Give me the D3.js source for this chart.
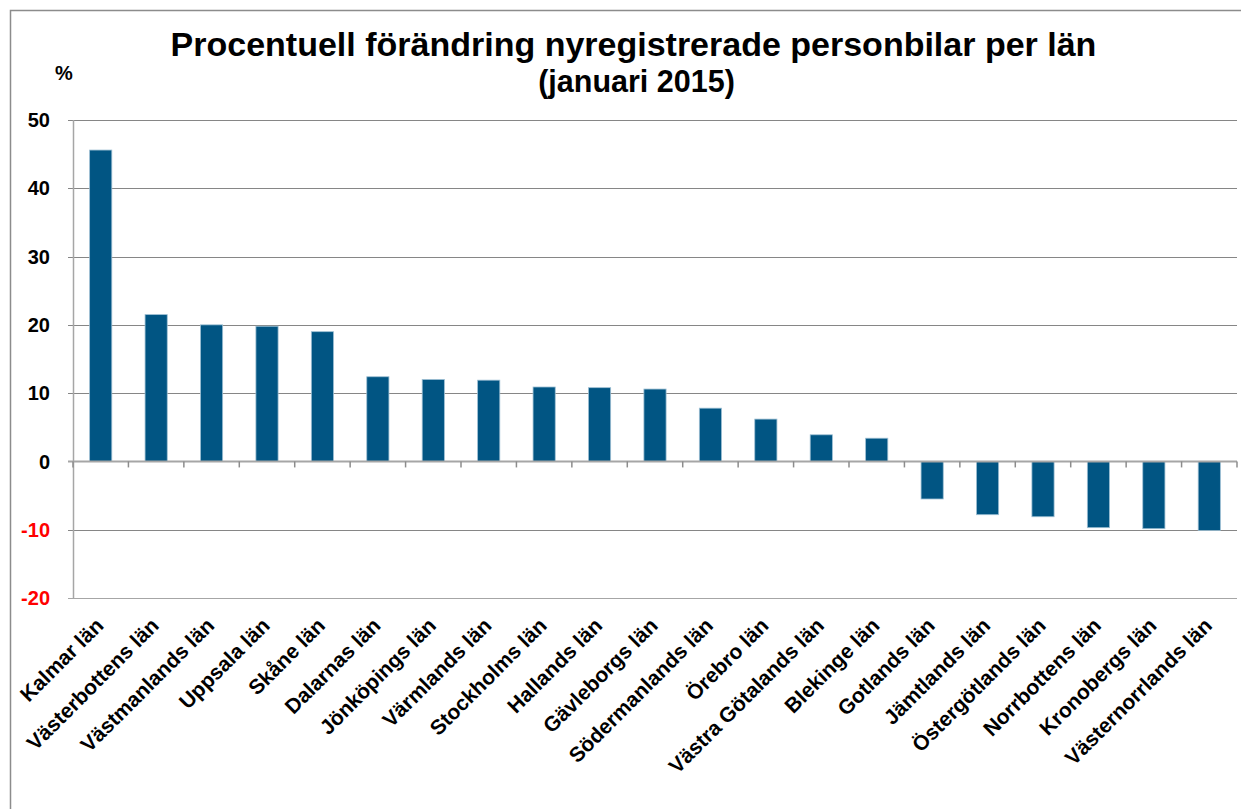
<!DOCTYPE html>
<html><head><meta charset="utf-8">
<script src="https://cdn.jsdelivr.net/npm/d3@7"></script>
<style>body{margin:0;background:#fff}svg{display:block}text{font-family:"Liberation Sans",Arimo,Arial,sans-serif;font-weight:bold}</style>
</head><body>
<svg id="c" width="1241" height="809"></svg>
<script>
const categories = ["Kalmar län","Västerbottens län","Västmanlands län","Uppsala län","Skåne län","Dalarnas län","Jönköpings län","Värmlands län","Stockholms län","Hallands län","Gävleborgs län","Södermanlands län","Örebro län","Västra Götalands län","Blekinge län","Gotlands län","Jämtlands län","Östergötlands län","Norrbottens län","Kronobergs län","Västernorrlands län"];
const values = [45.6,21.5,20.0,19.8,19.0,12.4,12.0,11.9,10.9,10.8,10.6,7.8,6.2,3.9,3.4,-5.5,-7.8,-8.1,-9.7,-9.85,-10.1];
const yTicks = [50,40,30,20,10,0,-10,-20];
const title = "Procentuell förändring nyregistrerade personbilar per län";
const subtitle = "(januari 2015)";

const svg = d3.select("#c");
svg.append("rect").attr("x",10.5).attr("y",10.5).attr("width",1240).attr("height",810)
  .attr("fill","none").attr("stroke","#8c8c8c").attr("stroke-width",1.5);

const L=73, R=1237, T=120, B=598;
const x = d3.scaleBand().domain(categories).range([L,R]).paddingInner(0.6).paddingOuter(0.3);
const xt = d3.scaleBand().domain(categories).range([L,R]);
const y = d3.scaleLinear().domain([-20,50]).range([B,T]);

// gridlines
svg.append("g").selectAll("line").data(yTicks.filter(d=>d!==0)).join("line")
  .attr("x1",L-5).attr("x2",R).attr("y1",d=>Math.round(y(d))+0.5).attr("y2",d=>Math.round(y(d))+0.5)
  .attr("stroke",d=>d===-20?"#a6a6a6":"#868686").attr("stroke-width",1);
// left axis
svg.append("line").attr("x1",L+0.5).attr("x2",L+0.5).attr("y1",T).attr("y2",B)
  .attr("stroke","#a6a6a6").attr("stroke-width",1.5);

// bars
svg.append("g").selectAll("rect").data(values).join("rect")
  .attr("x",(d,i)=>x(categories[i]))
  .attr("width",x.bandwidth())
  .attr("y",d=>y(Math.max(0,d)))
  .attr("height",d=>Math.abs(y(d)-y(0)))
  .attr("fill","#015583").attr("stroke","#9dbfd3").attr("stroke-width",0.8);

// zero axis
svg.append("line").attr("x1",L-5).attr("x2",R).attr("y1",y(0)).attr("y2",y(0))
  .attr("stroke","#a6a6a6").attr("stroke-width",2);
// ticks
const tickX = categories.map(c=>xt(c)).concat([R]);
svg.append("g").selectAll("line").data(tickX).join("line")
  .attr("x1",d=>d).attr("x2",d=>d).attr("y1",y(0)).attr("y2",y(0)+6)
  .attr("stroke","#8c8c8c").attr("stroke-width",1.5);

// y labels
svg.append("g").selectAll("text").data(yTicks).join("text")
  .attr("x",50).attr("y",d=>y(d)).attr("dy","0.36em").attr("text-anchor","end")
  .attr("font-size",20).attr("fill",d=>d<0?"#ff0000":"#000").text(d=>d);

// x labels
svg.append("g").selectAll("text").data(categories).join("text")
  .attr("text-anchor","end").attr("font-size",21)
  .attr("transform",c=>`translate(${xt(c)+xt.bandwidth()/2+4},${627}) rotate(-45)`)
  .text(c=>c);

// titles
svg.append("text").attr("x",633.5).attr("y",56).attr("text-anchor","middle").attr("font-size",34).text(title);
svg.append("text").attr("x",636.5).attr("y",92).attr("text-anchor","middle").attr("font-size",30.5).text(subtitle);
svg.append("text").attr("x",64).attr("y",80).attr("text-anchor","middle").attr("font-size",20).text("%");
</script>
</body></html>
